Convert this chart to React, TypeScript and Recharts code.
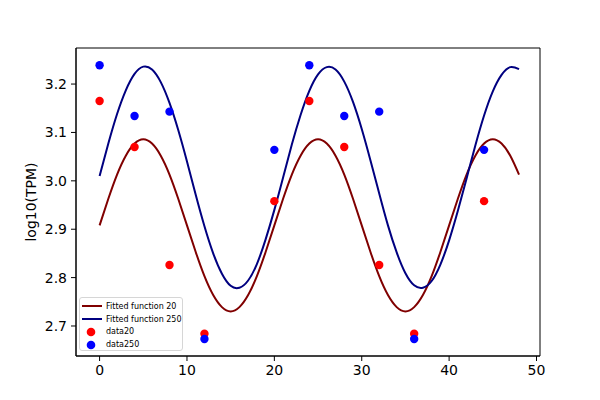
import React from "react";
import { ComposedChart, Line, Scatter, XAxis, YAxis, ReferenceArea } from "recharts";

// curve samples at every hour
const fitHours = [
  0, 1, 2, 3, 4, 5, 6, 7, 8, 9, 10, 11, 12, 13, 14, 15, 16, 17, 18, 19, 20, 21, 22, 23, 24,
  25, 26, 27, 28, 29, 30, 31, 32, 33, 34, 35, 36, 37, 38, 39, 40, 41, 42, 43, 44, 45, 46, 47, 48,
];
const fit20 = [
  2.908, 2.963, 3.013, 3.052, 3.077, 3.086, 3.077, 3.052, 3.013, 2.963, 2.908, 2.853, 2.803,
  2.764, 2.739, 2.73, 2.739, 2.764, 2.803, 2.853, 2.908, 2.963, 3.013, 3.052, 3.077, 3.086,
  3.077, 3.052, 3.013, 2.963, 2.908, 2.853, 2.803, 2.764, 2.739, 2.73, 2.739, 2.764, 2.803,
  2.853, 2.908, 2.963, 3.013, 3.052, 3.077, 3.086, 3.077, 3.052, 3.013,
];
const fit250 = [
  3.01, 3.077, 3.138, 3.187, 3.221, 3.236, 3.23, 3.204, 3.161, 3.105, 3.04, 2.971, 2.906, 2.85,
  2.808, 2.783, 2.779, 2.794, 2.828, 2.879, 2.94, 3.007, 3.075, 3.136, 3.186, 3.22, 3.235, 3.23,
  3.205, 3.163, 3.107, 3.042, 2.974, 2.908, 2.852, 2.809, 2.784, 2.779, 2.793, 2.827, 2.877,
  2.938, 3.005, 3.073, 3.135, 3.185, 3.219, 3.235, 3.231,
];

// measured samples
const sampleHours = [0, 4, 8, 12, 20, 24, 28, 32, 36, 44];
const data20 = [3.165, 3.07, 2.826, 2.684, 2.958, 3.165, 3.07, 2.826, 2.684, 2.958];
const data250 = [3.239, 3.134, 3.143, 2.673, 3.064, 3.239, 3.134, 3.143, 2.673, 3.064];

const xTicks = [0, 10, 20, 30, 40, 50];
const yTicks = [2.7, 2.8, 2.9, 3.0, 3.1, 3.2];
const xDomain = [-2.7, 50.4];
const yDomain = [2.638, 3.2745];

const fitLine20 = fitHours.map((x, i) => ({ x, y: fit20[i] }));
const fitLine250 = fitHours.map((x, i) => ({ x, y: fit250[i] }));
const points20 = sampleHours.map((x, i) => ({ x, y: data20[i] }));
const points250 = sampleHours.map((x, i) => ({ x, y: data250[i] }));

const FONT = "DejaVu Sans, sans-serif";

const legendItems = [
  { name: "Fitted function 20", color: "#800000", kind: "line" },
  { name: "Fitted function 250", color: "#000080", kind: "line" },
  { name: "data20", color: "#ff0000", kind: "dot" },
  { name: "data250", color: "#0000ff", kind: "dot" },
];

function ChartLegend() {
  return (
    <div
      style={{
        position: "absolute",
        left: 79,
        top: 297,
        width: 104,
        height: 54,
        border: "1px solid #d6d6d6",
        borderRadius: 3,
        background: "rgba(255,255,255,0.8)",
        fontFamily: FONT,
        fontSize: 8,
        boxSizing: "border-box",
        paddingTop: 2,
      }}
    >
      {legendItems.map((item) => (
        <div key={item.name} style={{ display: "flex", alignItems: "center", height: 12.8 }}>
          <svg width={25} height={12} style={{ marginLeft: 1 }}>
            {item.kind === "line" ? (
              <line x1={1} x2={21} y1={6} y2={6} stroke={item.color} strokeWidth={2} />
            ) : (
              <circle cx={10} cy={6} r={4.3} fill={item.color} />
            )}
          </svg>
          <span style={{ color: "#000" }}>{item.name}</span>
        </div>
      ))}
    </div>
  );
}

const dot = (color: string) => (p: any) => <circle cx={p.cx} cy={p.cy} r={4.2} fill={color} />;

export default function App() {
  const tickStyle = { fill: "#000", fontSize: 14, fontFamily: FONT };
  return (
    <div style={{ position: "absolute", left: 0, top: 0, width: 600, height: 400, background: "#fff" }}>
      <ComposedChart width={600} height={400} margin={{ top: 48, right: 60, bottom: 0, left: 0 }}>
        <XAxis
          type="number"
          dataKey="x"
          domain={xDomain}
          ticks={xTicks}
          allowDataOverflow
          height={44}
          tickSize={5}
          tickMargin={4}
          tick={tickStyle}
          axisLine={{ stroke: "#000" }}
          tickLine={{ stroke: "#000" }}
        />
        <YAxis
          type="number"
          dataKey="y"
          domain={yDomain}
          ticks={yTicks}
          allowDataOverflow
          width={76}
          tickSize={5}
          tickMargin={4}
          tick={tickStyle}
          tickFormatter={(v) => Number(v).toFixed(1)}
          axisLine={{ stroke: "#000" }}
          tickLine={{ stroke: "#000" }}
          label={{
            value: "log10(TPM)",
            angle: -90,
            position: "insideLeft",
            offset: 31,
            style: { fill: "#000", fontSize: 14, fontFamily: FONT, textAnchor: "middle" },
          }}
        />
        <ReferenceArea
          x1={xDomain[0]}
          x2={xDomain[1]}
          y1={yDomain[0]}
          y2={yDomain[1]}
          fill="none"
          stroke="#000"
          strokeWidth={1}
        />
        <Line
          data={fitLine20}
          dataKey="y"
          type="natural"
          stroke="#800000"
          strokeWidth={2}
          dot={false}
          isAnimationActive={false}
        />
        <Line
          data={fitLine250}
          dataKey="y"
          type="natural"
          stroke="#000080"
          strokeWidth={2}
          dot={false}
          isAnimationActive={false}
        />
        <Scatter data={points20} dataKey="y" shape={dot("#ff0000")} isAnimationActive={false} />
        <Scatter data={points250} dataKey="y" shape={dot("#0000ff")} isAnimationActive={false} />
      </ComposedChart>
      <ChartLegend />
    </div>
  );
}
